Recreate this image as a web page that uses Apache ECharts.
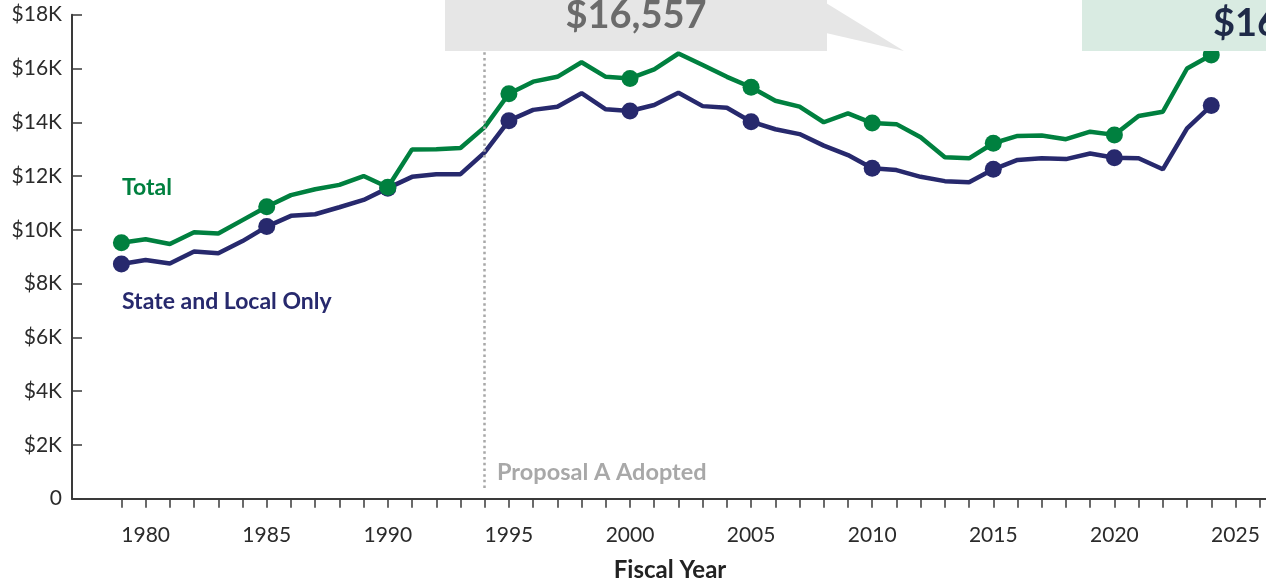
<!DOCTYPE html>
<html>
<head>
<meta charset="utf-8">
<script src="https://cdn.jsdelivr.net/npm/echarts@6/dist/echarts.min.js"></script>
<style>html,body{margin:0;padding:0;background:#fff;}#c{width:1266px;height:580px;}</style>
</head>
<body>
<div id="c"></div>
<script>
const years = [1979,1980,1981,1982,1983,1984,1985,1986,1987,1988,1989,1990,1991,1992,1993,1994,1995,1996,1997,1998,1999,2000,2001,2002,2003,2004,2005,2006,2007,2008,2009,2010,2011,2012,2013,2014,2015,2016,2017,2018,2019,2020,2021,2022,2023,2024];
const totalValues = [9520,9650,9470,9910,9860,10360,10860,11290,11510,11670,12000,11580,12990,13000,13040,13820,15060,15510,15690,16230,15690,15630,15970,16557,16130,15690,15300,14800,14580,14000,14330,13970,13930,13440,12700,12660,13220,13490,13510,13370,13650,13530,14230,14390,16000,16500];
const stateLocalValues = [8730,8880,8750,9190,9130,9580,10120,10520,10580,10840,11110,11550,11970,12070,12070,12880,14060,14460,14580,15080,14480,14420,14640,15100,14600,14540,14020,13740,13560,13130,12780,12290,12220,11970,11810,11770,12250,12600,12660,12630,12840,12680,12660,12250,13770,14620];
const markerYears = [1979,1985,1990,1995,2000,2005,2010,2015,2020,2024];
const xLabelYears = [1980,1985,1990,1995,2000,2005,2010,2015,2020,2025];
const yTickLabels = {0:'0',2000:'$2K',4000:'$4K',6000:'$6K',8000:'$8K',10000:'$10K',12000:'$12K',14000:'$14K',16000:'$16K',18000:'$18K'};
const proposalYear = 1994;
const peakLabel = '$16,557';
const latestLabel = '$16,498';

const GREEN = '#00803f';
const NAVY = '#27296d';
const tickYears = [];
for (let y = 1979; y <= 2026; y++) tickYears.push(y);

function toData(vals) {
  return years.map((y, i) => ({
    value: [y, vals[i]],
    symbol: markerYears.includes(y) ? 'circle' : 'none'
  }));
}

const chart = echarts.init(document.getElementById('c'), null, {renderer: 'canvas'});
chart.setOption({
  animation: false,
  backgroundColor: '#ffffff',
  grid: {left: 72, right: 0, top: 14.7, bottom: 81.3, containLabel: false},
  xAxis: {
    type: 'value', min: 1976.96, max: 2026.26,
    axisLine: {show: true, onZero: false, lineStyle: {color: '#3a3a3a', width: 2}},
    axisTick: {show: true, customValues: tickYears, length: 9, lineStyle: {color: '#3a3a3a', width: 1.5}},
    axisLabel: {customValues: xLabelYears, margin: 26, color: '#2b2b2b', fontFamily: 'Lato', fontSize: 21, formatter: v => String(Math.round(v))},
    splitLine: {show: false}
  },
  yAxis: {
    type: 'value', min: 0, max: 18000, interval: 2000,
    axisLine: {show: true, lineStyle: {color: '#3a3a3a', width: 2}},
    axisTick: {show: true, inside: true, length: 10, lineStyle: {color: '#3a3a3a', width: 1.5}},
    axisLabel: {margin: 10, color: '#2b2b2b', fontFamily: 'Lato', fontSize: 21, formatter: v => yTickLabels[v] !== undefined ? yTickLabels[v] : ''},
    splitLine: {show: false}
  },
  series: [
    {
      name: 'State and Local Only', type: 'line', data: toData(stateLocalValues),
      symbolSize: 17, showAllSymbol: true,
      lineStyle: {color: NAVY, width: 4.5}, itemStyle: {color: NAVY},
      z: 3
    },
    {
      name: 'Total', type: 'line', data: toData(totalValues),
      symbolSize: 17, showAllSymbol: true,
      lineStyle: {color: GREEN, width: 4.5}, itemStyle: {color: GREEN},
      z: 4,
      markLine: {
        silent: true, symbol: 'none', label: {show: false},
        lineStyle: {color: '#a8a8a8', width: 2.5, type: [2.5, 3.2]},
        data: [[{coord: [proposalYear, 16600]}, {coord: [proposalYear, 300]}]]
      }
    }
  ],
  graphic: [
    {type: 'rect', shape: {x: 445, y: 0, width: 382, height: 51}, style: {fill: '#e6e6e6'}, z: 10},
    {type: 'polygon', shape: {points: [[826, 3], [904, 51], [826, 33]]}, style: {fill: '#e6e6e6'}, z: 10},
    {type: 'text', x: 636, y: 16, style: {text: peakLabel, fill: '#6b6b6b', font: 'bold 38px Lato', align: 'center', verticalAlign: 'middle'}, z: 11},
    {type: 'rect', shape: {x: 1082, y: 0, width: 200, height: 51}, style: {fill: '#d9ebe2'}, z: 10},
    {type: 'text', x: 1213, y: 24, style: {text: latestLabel, fill: '#1f2a48', font: 'bold 38px Lato', align: 'left', verticalAlign: 'middle'}, z: 11},
    {type: 'text', x: 122, y: 188, style: {text: 'Total', fill: GREEN, font: 'bold 23px Lato', align: 'left', verticalAlign: 'middle'}, z: 11},
    {type: 'text', x: 122, y: 302, style: {text: 'State and Local Only', fill: NAVY, font: 'bold 23px Lato', align: 'left', verticalAlign: 'middle'}, z: 11},
    {type: 'text', x: 497, y: 472, style: {text: 'Proposal A Adopted', fill: '#a8a8a8', font: 'bold 23.5px Lato', align: 'left', verticalAlign: 'middle'}, z: 11},
    {type: 'text', x: 670, y: 570, style: {text: 'Fiscal Year', fill: '#222222', font: 'bold 24px Lato', align: 'center', verticalAlign: 'middle'}, z: 11}
  ]
});
</script>
</body>
</html>
